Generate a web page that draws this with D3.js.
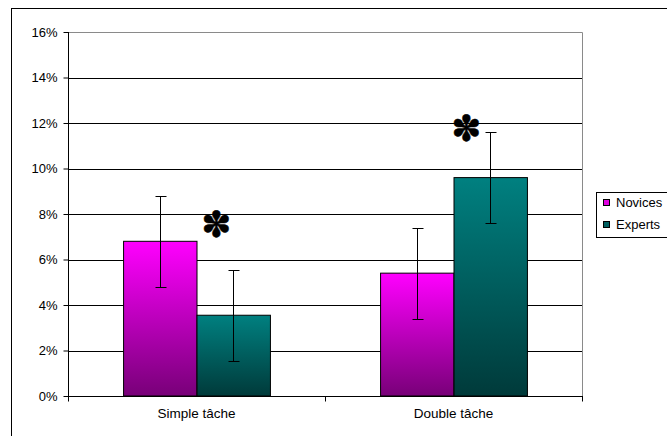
<!DOCTYPE html>
<html><head><meta charset="utf-8">
<script src="https://cdn.jsdelivr.net/npm/d3@7"></script>
<style>body{margin:0;background:#fff}svg{display:block}text{font-family:"Liberation Sans",Arial,sans-serif}</style>
</head><body>
<svg id="c" width="667" height="436"></svg>
<script>
const categories = ["Simple tâche", "Double tâche"];
const seriesNames = ["Novices", "Experts"];
const novices = [6.8, 5.4];
const experts = [3.55, 9.6];
const novicesErr = [2.0, 2.0];
const expertsErr = [2.0, 2.0];
const significant = [[false, true], [false, true]]; // [category][series]
const yTicks = [0, 2, 4, 6, 8, 10, 12, 14, 16];

const svg = d3.select("#c");
const L = 68, R = 582, T = 32, B = 396;
const defs = svg.append("defs");
function grad(id, top, bot) {
  const g = defs.append("linearGradient").attr("id", id).attr("x1", 0).attr("y1", 0).attr("x2", 0).attr("y2", 1);
  g.append("stop").attr("offset", "0%").attr("stop-color", top);
  g.append("stop").attr("offset", "100%").attr("stop-color", bot);
}
grad("gN", "#ff00ff", "#780078");
grad("gE", "#008080", "#003a3a");
const fills = ["url(#gN)", "url(#gE)"];

// outer chart border
svg.append("rect").attr("x", 11.5).attr("y", 8.5).attr("width", 700).attr("height", 440)
  .attr("fill", "none").attr("stroke", "#000").attr("stroke-width", 1);

const y = d3.scaleLinear().domain([0, 16]).range([B, T]);
const x0 = d3.scaleBand().domain(categories).range([L, R]).paddingInner(0).paddingOuter(0);
const bw = x0.bandwidth() / 3.5;

// gridlines
svg.append("g").selectAll("line").data(yTicks.filter(d => d > 0 && d < 16)).join("line")
  .attr("x1", L).attr("x2", R).attr("y1", d => Math.round(y(d)) + 0.5).attr("y2", d => Math.round(y(d)) + 0.5)
  .attr("stroke", "#000").attr("stroke-width", 1);
// plot border top/right gray
svg.append("path").attr("d", `M${L},${T + 0.5}H${R + 0.5}V${B}`).attr("fill", "none").attr("stroke", "#8a8a8a");

// bars
const data = categories.map((c, i) => [
  {c, i, s: 0, v: novices[i], e: novicesErr[i], sig: significant[i][0]},
  {c, i, s: 1, v: experts[i], e: expertsErr[i], sig: significant[i][1]}
]).flat();
const bx = d => x0(d.c) + x0.bandwidth() / 2 + (d.s === 0 ? -bw : 0);
svg.append("g").selectAll("rect").data(data).join("rect")
  .attr("x", d => bx(d) + 0.5).attr("width", bw)
  .attr("y", d => y(d.v)).attr("height", d => B - y(d.v))
  .attr("fill", d => fills[d.s]).attr("stroke", "#000").attr("stroke-width", 1);

// error bars
const eb = svg.append("g").attr("stroke", "#000").attr("stroke-width", 1);
data.forEach(d => {
  const cx = Math.round(bx(d) + bw / 2) + 0.5;
  const yt = Math.round(y(d.v + d.e)) + 0.5, yb = Math.round(y(d.v - d.e)) + 0.5;
  eb.append("line").attr("x1", cx).attr("x2", cx).attr("y1", yt).attr("y2", yb);
  eb.append("line").attr("x1", cx - 5).attr("x2", cx + 6).attr("y1", yt).attr("y2", yt);
  eb.append("line").attr("x1", cx - 5).attr("x2", cx + 6).attr("y1", yb).attr("y2", yb);
});

// significance asterisks
const astDx = [-17, -24], astDy = [-45, -4];
data.filter(d => d.sig).forEach(d => {
  svg.append("text").attr("x", bx(d) + bw / 2 + astDx[d.i]).attr("y", y(d.v + d.e) + astDy[d.i])
    .attr("text-anchor", "middle").attr("dominant-baseline", "central")
    .attr("stroke", "#000").attr("stroke-width", 0.5).attr("stroke-linejoin", "round")
    .style("font-family", "DejaVu Sans").style("font-size", "36px").text("✽");
});

// axes
const yAxis = d3.axisLeft(y).tickValues(yTicks).tickSize(5).tickFormat(d => d + "%");
const ga = svg.append("g").attr("transform", `translate(${L + 0.5},0)`).call(yAxis);
ga.select(".domain").attr("d", `M0,${T}V${B}`).attr("stroke", "#000");
ga.selectAll(".tick line").attr("stroke", "#000");
ga.selectAll("text").attr("x", -11).style("font-size", "13px").style("fill", "#000");

const xg = svg.append("g").attr("transform", `translate(0,${B + 0.5})`);
xg.append("line").attr("x1", L).attr("x2", R + 1).attr("stroke", "#000");
xg.selectAll("line.t").data([L, L + x0.bandwidth(), R]).join("line").attr("class", "t")
  .attr("x1", d => d + 0.5).attr("x2", d => d + 0.5).attr("y1", 0).attr("y2", 5).attr("stroke", "#000");
xg.selectAll("text").data(categories).join("text")
  .attr("x", d => x0(d) + x0.bandwidth() / 2).attr("y", 21.5).attr("text-anchor", "middle")
  .style("font-size", "13.5px").text(d => d);

// legend
const lg = svg.append("g").attr("transform", "translate(596,192)");
lg.append("rect").attr("x", 0.5).attr("y", 0.5).attr("width", 80).attr("height", 45).attr("fill", "#fff").attr("stroke", "#000");
seriesNames.forEach((n, i) => {
  lg.append("rect").attr("x", 7.5).attr("y", 7.5 + i * 22).attr("width", 6).attr("height", 6)
    .attr("fill", i === 0 ? "#e000e0" : "#006060").attr("stroke", "#000");
  lg.append("text").attr("x", 20).attr("y", 15 + i * 22).style("font-size", "13px").text(n);
});
</script>
</body></html>
